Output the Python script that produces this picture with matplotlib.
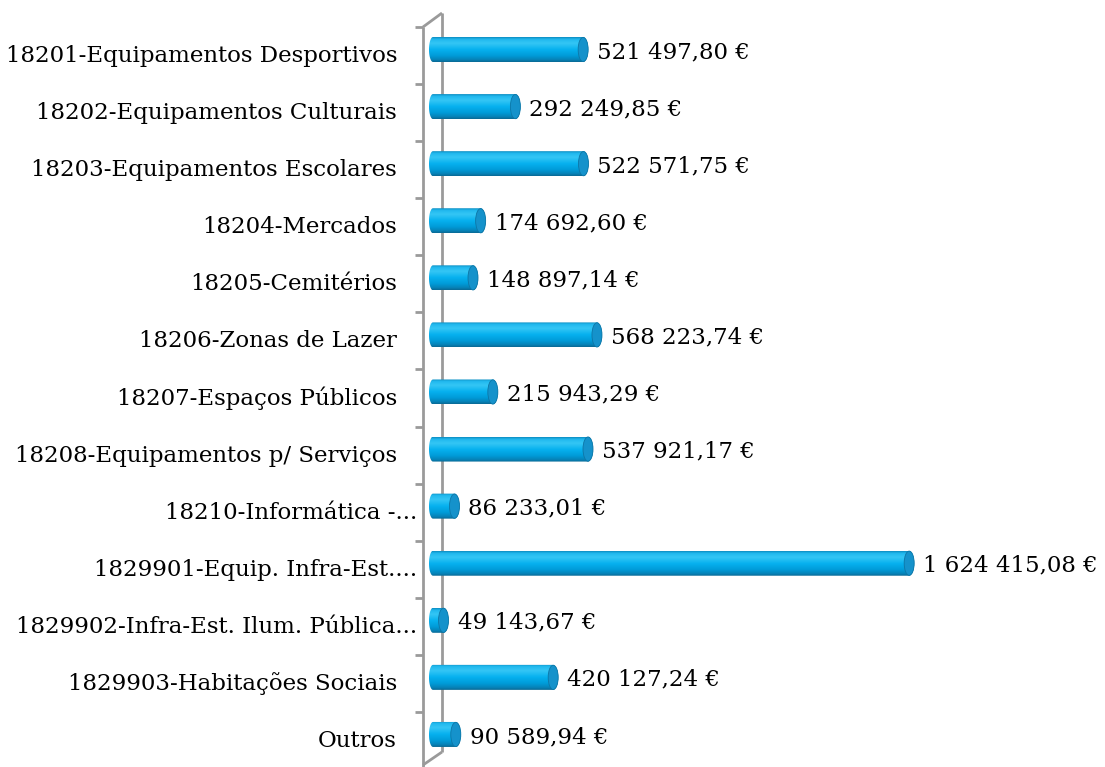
import numpy as np
import matplotlib
matplotlib.use("Agg")
import matplotlib.pyplot as plt
from matplotlib.path import Path
from matplotlib.patches import PathPatch, Ellipse
from matplotlib.colors import LinearSegmentedColormap

categories = [
    "18201-Equipamentos Desportivos",
    "18202-Equipamentos Culturais",
    "18203-Equipamentos Escolares",
    "18204-Mercados",
    "18205-Cemitérios",
    "18206-Zonas de Lazer",
    "18207-Espaços Públicos",
    "18208-Equipamentos p/ Serviços",
    "18210-Informática -...",
    "1829901-Equip. Infra-Est....",
    "1829902-Infra-Est. Ilum. Pública...",
    "1829903-Habitações Sociais",
    "Outros",
]
values = [
    521497.80, 292249.85, 522571.75, 174692.60, 148897.14, 568223.74,
    215943.29, 537921.17, 86233.01, 1624415.08, 49143.67, 420127.24,
    90589.94,
]


def euro(v):
    s = f"{v:,.2f}".replace(",", " ").replace(".", ",")
    return s + " €"


W, H, DPI = 1105, 767, 100
fig = plt.figure(figsize=(W / DPI, H / DPI), dpi=DPI)
fig.patch.set_facecolor("white")

# axes spans from the front wall line to the right edge, full height
ax_left_px = 422
ax = fig.add_axes([ax_left_px / W, 0, (W - ax_left_px) / W, 1])
ax.set_axis_off()

px_per_unit = 2.956e-4
zero_px = 429
xmin = -(zero_px - ax_left_px) / px_per_unit
xmax = xmin + (W - ax_left_px) / px_per_unit
ax.set_xlim(xmin, xmax)

pitch = 57.08
first_c = 49.5
ax.set_ylim((H - first_c) / pitch, -first_c / pitch)

n = len(categories)
ypos = np.arange(n)
bar_h = 25 / pitch
rx = 5 / px_per_unit  # half width of the end ellipse in data units

cmap = LinearSegmentedColormap.from_list(
    "cyl",
    [(0.0, "#0a86bb"), (0.08, "#1fb8ee"), (0.25, "#35c6f5"), (0.5, "#06b1ef"),
     (0.75, "#009bd8"), (0.92, "#0780b4"), (1.0, "#0a6690")],
)
grad = np.linspace(0, 1, 256).reshape(-1, 1)

bars = ax.barh(ypos, values, height=bar_h, color="none", edgecolor="none")

for bar, v in zip(bars, values):
    x0 = bar.get_x()
    x1 = x0 + bar.get_width()
    yc = bar.get_y() + bar.get_height() / 2
    hh = bar.get_height() / 2
    t_left = np.linspace(np.pi / 2, 3 * np.pi / 2, 40)
    t_right = np.linspace(-np.pi / 2, np.pi / 2, 40)
    xs = np.concatenate([x0 + rx * 0.8 + rx * 0.8 * np.cos(t_left),
                         x1 + rx * np.cos(t_right)])
    ys = np.concatenate([yc - hh * np.sin(t_left), yc - hh * np.sin(t_right)])
    verts = np.column_stack([xs, ys])
    body = PathPatch(Path(np.vstack([verts, verts[:1]]), closed=True),
                     facecolor="none", edgecolor="none", lw=0, zorder=3)
    ax.add_patch(body)
    im = ax.imshow(grad, cmap=cmap, aspect="auto",
                   extent=(x0 - rx, x1 + rx, yc + hh, yc - hh),
                   zorder=2, interpolation="bicubic")
    im.set_clip_path(body)
    cap = Ellipse((x1, yc), 2 * rx, 2 * hh * 0.97, facecolor="#1592cb",
                  edgecolor="#0d76a6", lw=0.6, zorder=4)
    ax.add_patch(cap)
    ax.text(x1 + rx + 9 / px_per_unit, yc + 2.5 / pitch, euro(v),
            ha="left", va="center", fontsize=16.5, family="DejaVu Serif",
            color="black", zorder=5)

# category labels; truncated names sit closer to the wall
for i, c in enumerate(categories):
    right_px = 417 if c.endswith("...") else 397
    xr = xmin + (right_px - ax_left_px) / px_per_unit
    ax.text(xr, i + 6.5 / pitch, c, ha="right", va="center",
            fontsize=16.5, family="DejaVu Serif", color="black", clip_on=False)

# 3D wall outline
wall = "#9a9a9a"


def pxline(xp, yp):
    xd = [xmin + (x - ax_left_px) / px_per_unit for x in xp]
    yd = [(y - first_c) / pitch for y in yp]
    ax.plot(xd, yd, color=wall, lw=2, solid_capstyle="butt", clip_on=False, zorder=1)


pxline([423, 423], [27, 767])
pxline([442, 442], [13, 752])
pxline([423, 442], [27, 13])
pxline([442, 423], [752, 765])
for k in range(n + 1):
    yt = 27 + pitch * k
    pxline([415, 423], [yt, yt])

fig.savefig("out.png", dpi=DPI, facecolor="white")
